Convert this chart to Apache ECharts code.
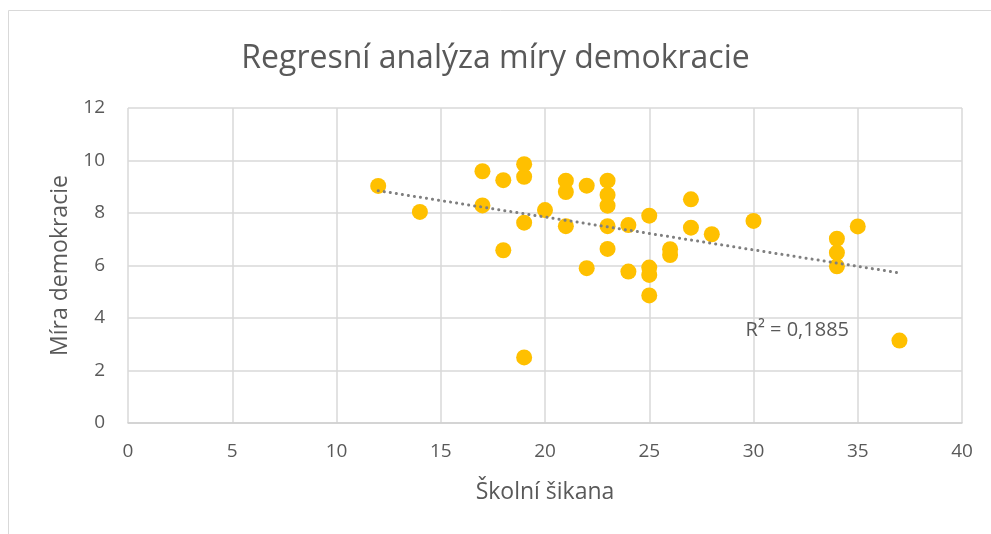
<!DOCTYPE html>
<html>
<head>
<meta charset="utf-8">
<script src="https://cdn.jsdelivr.net/npm/echarts@6/dist/echarts.min.js"></script>
<style>
  html, body { margin: 0; padding: 0; background: #fff; }
  #chart { width: 991px; height: 534px; }
</style>
</head>
<body>
<div id="chart"></div>
<script>
// Školní šikana (x) vs. Míra demokracie (y)
var bullying = [12, 14, 17, 17, 18, 18, 19, 19, 19, 19, 20, 21, 21, 21, 22, 22, 23, 23, 23, 23, 23,
                24, 24, 25, 25, 25, 25, 26, 26, 27, 27, 28, 30, 34, 34, 34, 35, 37];
var democracy = [9.03, 8.04, 9.59, 8.29, 9.25, 6.58, 9.86, 9.38, 7.63, 2.5, 8.11, 9.23, 8.8, 7.5, 9.04, 5.9,
                 9.23, 8.69, 8.28, 7.5, 6.63, 7.54, 5.77, 7.9, 5.92, 5.64, 4.86, 6.62, 6.4, 8.52, 7.44,
                 7.19, 7.7, 7.02, 6.49, 5.97, 7.49, 3.14];
var xTicks = [0, 5, 10, 15, 20, 25, 30, 35, 40];
var yTicks = [0, 2, 4, 6, 8, 10, 12];

var points = bullying.map(function (x, i) { return [x, democracy[i]]; });

// linear trendline (least squares)
function fitLine(xs, ys) {
    var n = xs.length, sx = 0, sy = 0, sxy = 0, sxx = 0;
    for (var i = 0; i < n; i++) {
        sx += xs[i]; sy += ys[i]; sxy += xs[i] * ys[i]; sxx += xs[i] * xs[i];
    }
    var b = (n * sxy - sx * sy) / (n * sxx - sx * sx);
    var a = (sy - b * sx) / n;
    return { a: a, b: b };
}
var fit = fitLine(bullying, democracy);
var xMin = Math.min.apply(null, bullying), xMax = Math.max.apply(null, bullying);
var trend = [[xMin, fit.a + fit.b * xMin], [xMax, fit.a + fit.b * xMax]];

var textColor = '#595959';
var font = '"Open Sans", "Noto Sans", sans-serif';

var chart = echarts.init(document.getElementById('chart'));
chart.setOption({
    animation: false,
    textStyle: { fontFamily: font },
    title: {
        text: 'Regresní analýza míry demokracie',
        left: 'center',
        top: 38,
        textStyle: { fontSize: 32, fontWeight: 'normal', color: textColor, fontFamily: font }
    },
    graphic: [{
        type: 'rect',
        shape: { x: 8.5, y: 10.5, width: 1000, height: 600 },
        style: { fill: 'none', stroke: '#d9d9d9', lineWidth: 1 },
        silent: true
    }],
    grid: { left: 128, right: 29, top: 108, bottom: 111 },
    xAxis: {
        type: 'value',
        min: xTicks[0],
        max: xTicks[xTicks.length - 1],
        interval: 5,
        name: 'Školní šikana',
        nameLocation: 'middle',
        nameGap: 58,
        nameTextStyle: { fontSize: 23, color: textColor },
        axisLine: { show: true, lineStyle: { color: '#d0d0d0', width: 1.5 } },
        axisTick: { show: false },
        axisLabel: { fontSize: 19, color: textColor, margin: 19 },
        splitLine: { show: true, lineStyle: { color: '#d9d9d9', width: 1.5 } }
    },
    yAxis: {
        type: 'value',
        min: yTicks[0],
        max: yTicks[yTicks.length - 1],
        interval: 2,
        name: 'Míra demokracie',
        nameLocation: 'middle',
        nameGap: 56,
        nameTextStyle: { fontSize: 23, color: textColor },
        axisLine: { show: false },
        axisTick: { show: false },
        axisLabel: { fontSize: 19, color: textColor, margin: 23 },
        splitLine: { show: true, lineStyle: { color: '#d9d9d9', width: 1.5 } }
    },
    series: [{
        type: 'scatter',
        data: points,
        symbolSize: 16,
        itemStyle: { color: '#FFC000', opacity: 1 },
        z: 3
    }, {
        type: 'line',
        data: trend,
        symbol: 'none',
        lineStyle: { color: '#7f7f7f', width: 3, type: [0.1, 6], cap: 'round' },
        z: 4,
        markPoint: {
            symbol: 'rect',
            symbolSize: 1,
            itemStyle: { color: 'transparent' },
            label: {
                show: true,
                formatter: 'R² = 0,1885',
                fontSize: 20,
                color: textColor,
                position: 'inside'
            },
            data: [{ coord: [32.1, 3.55] }]
        }
    }]
});
</script>
</body>
</html>
